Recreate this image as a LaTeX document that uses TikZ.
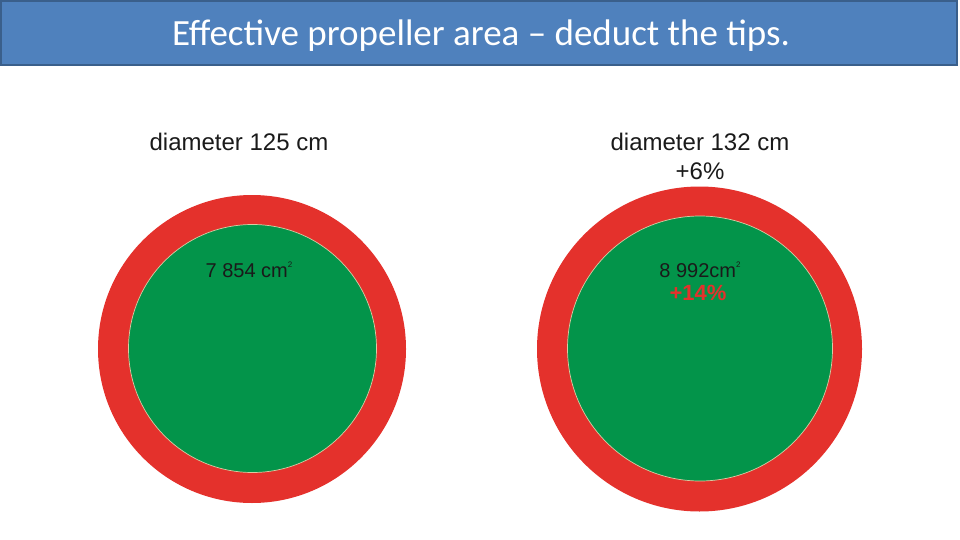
\documentclass[tikz,border=0pt]{standalone}
\usepackage{fontspec}
\setmainfont{Liberation Sans}
\newfontfamily\titlefont{Carlito}
\usetikzlibrary{positioning}
\definecolor{slideblue}{HTML}{4F81BD}
\definecolor{slideedge}{HTML}{3A5F8B}
\definecolor{tipred}{HTML}{E4312C}
\definecolor{bladegreen}{HTML}{03944A}
\definecolor{ringline}{HTML}{D9CBA3}
\definecolor{labelink}{HTML}{1A1A1A}

\begin{document}
\begin{tikzpicture}[x=1pt, y=-1pt,
    titlebar/.style={rectangle, draw=slideedge, line width=2pt, fill=slideblue,
                minimum width=956pt, minimum height=64pt, inner sep=0pt},
    titletext/.style={font=\titlefont\fontsize{37}{40}\selectfont, text=white, inner sep=0pt},
    tips/.style={circle, fill=tipred, inner sep=0pt},
    blade/.style={circle, fill=bladegreen, draw=ringline, line width=0.7pt, inner sep=0pt},
    diam/.style={font=\fontsize{24}{28}\selectfont, text=labelink, inner sep=0pt, anchor=base},
    area/.style={font=\fontsize{20}{24}\selectfont, text=labelink, inner sep=0pt, anchor=base},
    gain/.style={font=\bfseries\fontsize{22}{24}\selectfont, text=tipred, inner sep=0pt, anchor=base}
  ]
    \useasboundingbox (0,0) rectangle (960,540);
    \newcommand{\sqsup}{\raisebox{0.5em}{\fontsize{8}{8}\selectfont 2}}

    % title
    \node[titlebar] (bar) at (479,33) {};
    \node[titletext, anchor=base] (title) at (481,46) {Effective propeller area – deduct the tips.};

    % 125 cm propeller
    \node[tips, minimum size=308pt] (tipsA) at (252,349) {};
    \node[blade, minimum size=248pt] (bladeA) at (252.5,348.5) {};
    \node[diam] (diamA) at (239,151) {diameter 125 cm};
    \node[area] (areaA) at (249,277) {7 854 cm\sqsup};

    % 132 cm propeller
    \node[tips, minimum size=325pt] (tipsB) at (699.5,349) {};
    \node[blade, minimum size=265pt] (bladeB) at (700,348.5) {};
    \node[diam] (diamB) at (700,151) {diameter 132 cm};
    \node[diam, below=11pt of diamB, anchor=north] (diamgain) {+6\%};
    \node[area] (areaB) at (700,277) {8 992cm\sqsup};
    \node[gain] (areagain) at (698,300) {+14\%};
  \end{tikzpicture}
\end{document}
